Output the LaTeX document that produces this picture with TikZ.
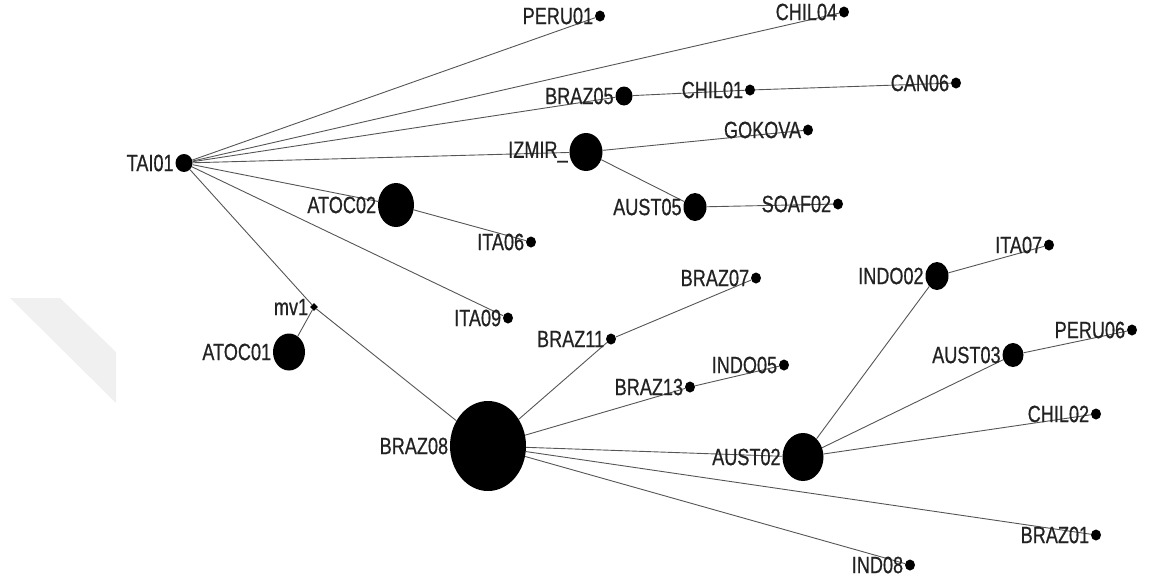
\documentclass[tikz,border=0pt]{standalone}
\usepackage{fontspec}
\newfontfamily\lblfont[FakeStretch=0.77,FakeBold=0.6]{Liberation Sans}
\usetikzlibrary{shapes.geometric}
\definecolor{edgegray}{HTML}{555555}
\definecolor{lblgray}{HTML}{222222}
\definecolor{bandgray}{HTML}{F0F0F0}
\tikzset{
  dot/.style 2 args={ellipse, fill=black, draw=none, inner sep=0pt,
    minimum width=#1pt, minimum height=#2pt},
  smalldot/.style={dot={10}{11}},
  vmark/.style={diamond, fill=black, inner sep=0pt, minimum size=8pt},
  lbl/.style={anchor=east, inner sep=1.5pt, text=lblgray,
    font=\lblfont\fontsize{23.5}{23.5}\selectfont},
  edge/.style={draw=edgegray, line width=0.9pt}
}
\begin{document}
\begin{tikzpicture}[x=1pt, y=-1pt]
\useasboundingbox (0,0) rectangle (1151,582);
\fill[bandgray] (10,298) -- (60,298) -- (116,352) -- (116,403) -- cycle;

% vertices
\node[dot={17}{18}] (TAI01) at (184,163) {};
\node[smalldot] (PERU01) at (600,16) {};
\node[smalldot] (CHIL04) at (844,12) {};
\node[dot={17}{19}] (BRAZ05) at (624,96) {};
\node[smalldot] (CHIL01) at (750,90) {};
\node[smalldot] (CAN06) at (956,83) {};
\node[dot={33}{38}] (IZMIR) at (586,152) {};
\node[smalldot] (GOKOVA) at (808,130) {};
\node[dot={36}{44}] (ATOC02) at (396,205) {};
\node[smalldot] (ITA06) at (531,242) {};
\node[dot={23}{28}] (AUST05) at (695,207) {};
\node[smalldot] (SOAF02) at (838,204) {};
\node[smalldot] (ITA09) at (508,318) {};
\node[vmark] (mv1) at (314,307) {};
\node[dot={32}{37}] (ATOC01) at (289,352) {};
\node[smalldot] (BRAZ07) at (756,278) {};
\node[smalldot] (BRAZ11) at (611,339) {};
\node[smalldot] (INDO05) at (784,365) {};
\node[smalldot] (BRAZ13) at (690,387) {};
\node[dot={76}{90}] (BRAZ08) at (488,446) {};
\node[dot={41}{48}] (AUST02) at (803,457) {};
\node[dot={23}{28}] (INDO02) at (937,276) {};
\node[smalldot] (ITA07) at (1049,245) {};
\node[dot={21}{24}] (AUST03) at (1013,355) {};
\node[smalldot] (PERU06) at (1132,330) {};
\node[smalldot] (CHIL02) at (1096,414) {};
\node[smalldot] (BRAZ01) at (1096,535) {};
\node[smalldot] (IND08) at (910,565) {};

% edges
\foreach \a/\b in {TAI01/PERU01, TAI01/CHIL04, TAI01/BRAZ05, TAI01/IZMIR,
  TAI01/ATOC02, TAI01/ITA09, TAI01/mv1, mv1/ATOC01, mv1/BRAZ08,
  BRAZ05/CHIL01, CHIL01/CAN06, IZMIR/GOKOVA, IZMIR/AUST05, AUST05/SOAF02,
  ATOC02/ITA06, BRAZ08/BRAZ11, BRAZ11/BRAZ07, BRAZ08/BRAZ13, BRAZ13/INDO05,
  BRAZ08/AUST02, BRAZ08/BRAZ01, BRAZ08/IND08, AUST02/INDO02, INDO02/ITA07,
  AUST02/AUST03, AUST03/PERU06, AUST02/CHIL02}
  \draw[edge] (\a) -- (\b);

% vertex labels
\foreach \n/\t in {TAI01/TAI01, PERU01/PERU01, CHIL04/CHIL04, BRAZ05/BRAZ05,
  CHIL01/CHIL01, CAN06/CAN06, IZMIR/IZMIR\_, GOKOVA/GOKOVA, ATOC02/ATOC02,
  ITA06/ITA06, AUST05/AUST05, SOAF02/SOAF02, ITA09/ITA09, mv1/mv1,
  ATOC01/ATOC01, BRAZ07/BRAZ07, BRAZ11/BRAZ11, INDO05/INDO05, BRAZ13/BRAZ13,
  BRAZ08/BRAZ08, AUST02/AUST02, INDO02/INDO02, ITA07/ITA07, AUST03/AUST03,
  PERU06/PERU06, CHIL02/CHIL02, BRAZ01/BRAZ01, IND08/IND08}
  \node[lbl] (t\n) at (\n.west) {\t};
\end{tikzpicture}
\end{document}
